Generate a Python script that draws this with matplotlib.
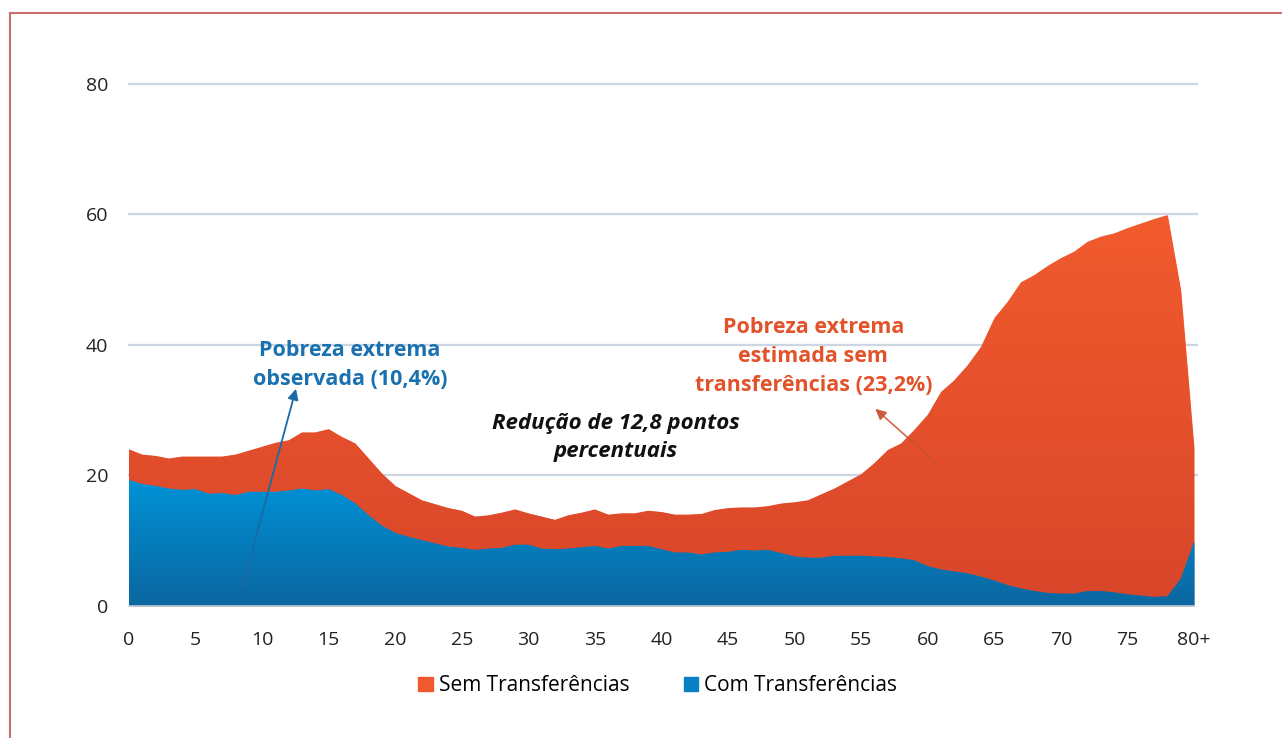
import numpy as np
import matplotlib.pyplot as plt
from matplotlib.colors import LinearSegmentedColormap
from matplotlib.patches import Rectangle
from matplotlib.lines import Line2D

plt.rcParams['font.family'] = ['Open Sans', 'DejaVu Sans']

# idade 0..80 (80 = 80+)
idade = list(range(81))
sem_transf = [24.0, 23.2, 23.0, 22.6, 22.9, 22.9, 22.9, 22.9, 23.2, 23.8,
              24.4, 25.0, 25.4, 26.6, 26.6, 27.1, 25.9, 24.9, 22.6, 20.3,
              18.4, 17.3, 16.2, 15.6, 15.0, 14.6, 13.7, 13.9, 14.3, 14.8,
              14.2, 13.7, 13.2, 13.9, 14.3, 14.8, 14.0, 14.2, 14.2, 14.6,
              14.4, 14.0, 14.0, 14.1, 14.7, 15.0, 15.1, 15.1, 15.3, 15.7,
              15.9, 16.2, 17.1, 18.0, 19.1, 20.2, 21.9, 23.9, 24.9, 27.0,
              29.3, 32.8, 34.6, 36.9, 39.7, 44.1, 46.6, 49.6, 50.7, 52.1,
              53.3, 54.3, 55.8, 56.6, 57.1, 57.9, 58.6, 59.3, 59.9, 48.4,
              24.2]
com_transf = [19.3, 18.7, 18.4, 18.0, 17.8, 17.9, 17.2, 17.3, 17.0, 17.5,
              17.5, 17.5, 17.7, 18.0, 17.7, 17.9, 17.0, 15.7, 13.9, 12.3,
              11.2, 10.6, 10.1, 9.6, 9.1, 8.9, 8.6, 8.8, 8.9, 9.4,
              9.4, 8.8, 8.7, 8.8, 9.0, 9.2, 8.8, 9.2, 9.2, 9.2,
              8.7, 8.2, 8.2, 7.9, 8.2, 8.3, 8.6, 8.5, 8.6, 8.1,
              7.6, 7.4, 7.4, 7.7, 7.7, 7.7, 7.6, 7.5, 7.3, 7.0,
              6.1, 5.6, 5.3, 5.0, 4.5, 3.9, 3.2, 2.7, 2.3, 2.0,
              1.9, 1.9, 2.3, 2.3, 2.1, 1.8, 1.6, 1.4, 1.5, 4.2,
              9.9]
xtick_pos = list(range(0, 81, 5))
xtick_lab = [str(v) for v in range(0, 80, 5)] + ['80+']

laranja = ['#d8462a', '#f25b2e']
azul = ['#0b66a0', '#0092d6']


def area_gradiente(ax, x, y, cores, z):
    poly = ax.fill_between(x, 0, y, color=cores[1], lw=0, zorder=z)
    cmap = LinearSegmentedColormap.from_list('g', cores)
    grad = np.linspace(0, 1, 256).reshape(-1, 1)
    im = ax.imshow(grad, cmap=cmap, aspect='auto', origin='lower',
                   extent=[min(x), max(x), 0, max(y)], zorder=z + 0.1,
                   interpolation='bilinear')
    im.set_clip_path(poly.get_paths()[0], transform=ax.transData)


fig = plt.figure(figsize=(12.82, 7.38), dpi=100)
ax = fig.add_axes([0.1006, 0.1789, 0.8308, 0.7073])

area_gradiente(ax, idade, sem_transf, laranja, 2)
area_gradiente(ax, idade, com_transf, azul, 3)

ax.set_xlim(0, 80)
ax.set_ylim(0, 80)
ax.set_yticks([0, 20, 40, 60, 80])
ax.set_xticks(xtick_pos)
ax.set_xticklabels(xtick_lab)
ax.tick_params(length=0, labelsize=14, colors='#222222')
ax.tick_params(axis='x', pad=18)
ax.tick_params(axis='y', pad=15)
for s in ['top', 'right', 'left']:
    ax.spines[s].set_visible(False)
ax.spines['bottom'].set_color('#c5ccd4')
ax.spines['bottom'].set_linewidth(1.2)
ax.spines['bottom'].set_zorder(5)
for g in [20, 40, 60, 80]:
    ax.plot([0, 80.2], [g, g], color='#cbd6e2', lw=1.6, zorder=1,
            clip_on=False)

ax.text(16.6, 36.9, 'Pobreza extrema\nobservada (10,4%)', color='#1a71b0',
        fontsize=15.5, fontweight='bold', ha='center', va='center',
        linespacing=1.5, zorder=6)
ax.annotate('', xy=(12.6, 33.7), xytext=(8.4, 2.0),
            arrowprops=dict(arrowstyle='-|>', color='#1a6aa6', lw=1.3,
                            mutation_scale=16), zorder=6)

ax.text(36.6, 25.8, 'Redução de 12,8 pontos\npercentuais', color='#111111',
        fontsize=16, fontweight='bold', fontstyle='italic', ha='center',
        va='center', linespacing=1.45, zorder=6)

ax.text(51.4, 38.2, 'Pobreza extrema\nestimada sem\ntransferências (23,2%)',
        color='#e2532b', fontsize=15.5, fontweight='bold', ha='center',
        va='center', linespacing=1.5, zorder=6)
ax.annotate('', xy=(55.9, 30.5), xytext=(61.2, 20.9),
            arrowprops=dict(arrowstyle='-|>', color='#c9502e', lw=1.2,
                            mutation_scale=16, alpha=0.85), zorder=6)

handles = [Rectangle((0, 0), 1, 1, color='#ee5a2e'),
           Rectangle((0, 0), 1, 1, color='#0a80c4')]
fig.legend(handles, ['Sem Transferências', 'Com Transferências'],
           loc='center', bbox_to_anchor=(0.513, 0.071), ncol=2, frameon=False,
           fontsize=15, handlelength=0.7, handleheight=0.7,
           handletextpad=0.3, columnspacing=2.6)

# moldura vermelha
fig.add_artist(Line2D([10 / 1282, 10 / 1282], [0, 1 - 13 / 738],
                      color='#c9706c', lw=1.5))
fig.add_artist(Line2D([10 / 1282, 1], [1 - 13 / 738, 1 - 13 / 738],
                      color='#c9706c', lw=1.5))

fig.savefig('out.png', dpi=100)
